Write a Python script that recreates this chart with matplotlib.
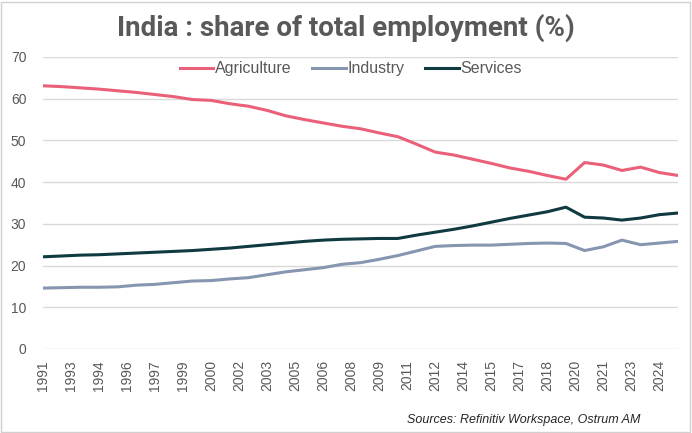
import matplotlib.pyplot as plt
from matplotlib.patches import Rectangle
import numpy as np

YEARS = list(range(1991, 2026))

AGRICULTURE = [
    63.1, 62.9, 62.6, 62.3, 61.9, 61.5, 61.0, 60.5, 59.8, 59.6,
    58.8, 58.2, 57.2, 55.9, 55.0, 54.2, 53.4, 52.8, 51.8, 50.9,
    49.1, 47.2, 46.5, 45.5, 44.5, 43.4, 42.6, 41.6, 40.7, 44.7,
    44.1, 42.8, 43.6, 42.3, 41.6
]

INDUSTRY = [
    14.6, 14.7, 14.8, 14.8, 14.9, 15.3, 15.5, 15.9, 16.3, 16.4,
    16.8, 17.1, 17.8, 18.5, 19.0, 19.5, 20.3, 20.7, 21.5, 22.4,
    23.5, 24.6, 24.8, 24.9, 24.9, 25.1, 25.3, 25.4, 25.3, 23.6,
    24.5, 26.1, 25.0, 25.4, 25.8
]

SERVICES = [
    22.1, 22.3, 22.5, 22.6, 22.8, 23.0, 23.2, 23.4, 23.6, 23.9,
    24.2, 24.6, 25.0, 25.4, 25.8, 26.1, 26.3, 26.4, 26.5, 26.5,
    27.3, 28.0, 28.7, 29.5, 30.4, 31.3, 32.1, 32.9, 34.0, 31.6,
    31.4, 30.9, 31.4, 32.2, 32.6
]

# excel date axis, one label every 18 months
TICK_LABELS = [
    '1991', '1993', '1994', '1996', '1997', '1999', '2000', '2002',
    '2003', '2005', '2006', '2008', '2009', '2011', '2012', '2014',
    '2015', '2017', '2018', '2020', '2021', '2023', '2024'
]

TEXT_COLOR = '#595959'
GRID_COLOR = '#d9d9d9'

plt.rcParams['font.family'] = ['Liberation Sans', 'DejaVu Sans']

figure = plt.figure(figsize=(6.92, 4.33), dpi=100)
ax = figure.add_axes([43 / 692, 84 / 433, 635 / 692, 292 / 433])

ax.plot(YEARS, AGRICULTURE, color='#ea6079', linewidth=2.2, label='Agriculture')
ax.plot(YEARS, INDUSTRY, color='#8696b0', linewidth=2.2, label='Industry')
ax.plot(YEARS, SERVICES, color='#0e3a40', linewidth=2.2, label='Services')

ax.set_xlim(YEARS[0], YEARS[-1])
ax.set_ylim(0, 70)
ax.set_yticks(np.arange(0, 71, 10))
ax.set_xticks([YEARS[0] + 1.5 * i for i in range(len(TICK_LABELS))])
ax.set_xticklabels(TICK_LABELS, rotation=90)

ax.grid(axis='y', color=GRID_COLOR, linewidth=1.0)
ax.set_axisbelow(True)
for spine in ax.spines.values():
    spine.set_visible(False)
ax.tick_params(axis='both', length=0, colors=TEXT_COLOR, labelsize=10)
ax.tick_params(axis='y', pad=12)
ax.tick_params(axis='x', pad=8)

legend = ax.legend(
    loc='center',
    bbox_to_anchor=(0.485, 0.96),
    ncol=3,
    frameon=False,
    fontsize=11.5,
    handlelength=2.1,
    handletextpad=0.1,
    columnspacing=1.3
)
for text in legend.get_texts():
    text.set_color(TEXT_COLOR)

figure.text(
    0.5, 0.936,
    'India : share of total employment (%)',
    ha='center',
    va='center',
    fontsize=20,
    fontweight='bold',
    color=TEXT_COLOR,
    family=['Liberation Sans Narrow', 'Roboto', 'DejaVu Sans']
)

figure.text(
    0.925, 0.03,
    'Sources: Refinitiv Workspace, Ostrum AM',
    ha='right',
    va='center',
    fontsize=9,
    style='italic',
    color='#262626'
)

figure.patches.append(Rectangle(
    (0.002, 0.003), 0.995, 0.993,
    transform=figure.transFigure,
    fill=False,
    edgecolor='#d0d0d0',
    linewidth=1.0
))

figure.savefig('out.png', dpi=100)
